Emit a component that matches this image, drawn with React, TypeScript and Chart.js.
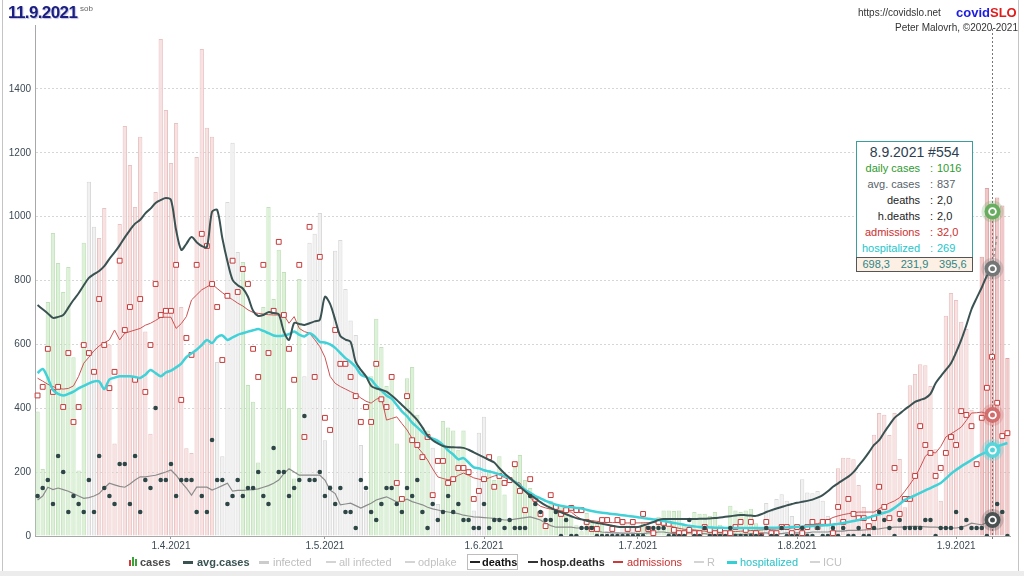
import React, { useEffect, useRef } from 'react';
import { Chart, registerables } from 'chart.js';

Chart.register(...registerables);

// ---------- categories (6.3.2021 .. 11.9.2021) ----------
const firstDay = [2021, 2, 6]; // year, monthIndex, day
const dayCount = 190;
const days: string[] = (() => {
  const out: string[] = [];
  const dt = new Date(Date.UTC(firstDay[0], firstDay[1], firstDay[2]));
  for (let i = 0; i < dayCount; i++) {
    out.push(`${dt.getUTCDate()}.${dt.getUTCMonth() + 1}.${dt.getUTCFullYear()}`);
    dt.setUTCDate(dt.getUTCDate() + 1);
  }
  return out;
})();
const isMonthStart = (i: number) => !!days[i] && days[i].startsWith('1.');

// ---------- series ----------
const cases = [
  390, 210, 733, 949, 855, 764, 842,
  560, 205, 918, 1109, 968, 933, 1027,
  600, 290, 977, 1284, 1162, 1030, 1250,
  640, 320, 1077, 1556, 1334, 1168, 1293,
  717, 275, 260, 1187, 1525, 1278, 1250,
  545, 250, 1046, 1231, 889, 858, 473,
  420, 230, 717, 1030, 742, 896, 827,
  400, 180, 805, 500, 918, 946, 1011,
  300, 160, 893, 927, 773, 675, 629,
  285, 140, 500, 680, 592, 470, 492,
  290, 110, 494, 529, 380, 340, 330,
  276, 100, 360, 340, 330, 270, 330,
  200, 80, 323, 373, 207, 175, 250,
  130, 50, 216, 254, 175, 150, 120,
  60, 25, 110, 100, 95, 75, 60,
  34, 15, 72, 50, 45, 40, 15,
  20, 10, 35, 40, 35, 30, 45,
  25, 10, 60, 80, 80, 78, 80,
  35, 15, 75, 70, 70, 63, 75,
  35, 15, 95, 80, 75, 80, 85,
  40, 20, 103, 78, 116, 131, 110,
  63, 30, 178, 136, 134, 141, 110,
  63, 35, 212, 245, 245, 240, 160,
  91, 40, 317, 385, 380, 316, 385,
  241, 90, 472, 507, 538, 535, 470,
  272, 110, 690, 761, 739, 671, 648,
  395, 230, 874, 1090, 1016, 1060, 1035,
  557,
];

// bar tone per range of days: g = falling (green), r = rising (pink), n = neutral (grey), h = highlighted week
const caseToneRanges: [number, number, string][] = [
  [0, 9, 'g'], [10, 11, 'n'], [12, 34, 'r'], [35, 39, 'n'], [40, 51, 'g'], [52, 64, 'n'],
  [65, 76, 'g'], [77, 78, 'n'], [79, 84, 'g'], [85, 87, 'n'], [88, 110, 'g'], [111, 116, 'n'],
  [117, 141, 'g'], [142, 155, 'n'], [156, 183, 'r'], [184, 189, 'h'],
];

const avgCases = [
  723, 710, 697, 683, 686, 692, 715, 739, 760, 785,
  808, 820, 830, 845, 868, 888, 910, 935, 958, 978,
  990, 1010, 1025, 1043, 1052, 1058, 1052, 958, 896, 915,
  936, 920, 908, 905, 1015, 1021, 933, 860, 802, 785,
  775, 749, 705, 689, 692, 701, 698, 694, 640, 614,
  667, 664, 661, 666, 672, 677, 749, 727, 677, 626,
  615, 608, 545, 520, 500, 470, 462, 458, 452, 440,
  426, 410, 395, 380, 363, 340, 315, 300, 290, 282,
  279, 278, 277, 276, 270, 262, 254, 246, 238, 230,
  212, 196, 182, 168, 154, 140, 128, 118, 106, 96,
  88, 80, 74, 68, 62, 56, 52, 48, 44, 41,
  38, 35, 32, 29, 28, 28, 28, 28, 33, 38,
  44, 50, 53, 53, 53, 53, 53, 53, 53, 54,
  54, 55, 56, 58, 60, 62, 64, 66, 65, 64,
  63, 68, 75, 81, 86, 91, 96, 100, 104, 107,
  110, 114, 120, 128, 140, 154, 165, 176, 186, 200,
  220, 240, 262, 285, 300, 325, 348, 370, 383, 396,
  408, 420, 426, 432, 445, 478, 500, 520, 541, 575,
  614, 660, 710, 745, 778, 815, 837,
];
const avgCasesForecast = [837, 945]; // dashed continuation from 8.9.

const deaths = [
  5, 6, 7, 4, 10, 8, 3, 5, 4, 3,
  7, 3, 10, 6, 5, 4, 9, 9, 4, 10,
  3, 7, 6, 16, 7, 7, 9, 5, 7, 7,
  7, 3, 5, 3, 12, 7, 7, 4, 5, 7,
  5, 6, 6, 8, 5, 4, 11, 8, 8, 5,
  6, 7, 15, 7, 7, 8, 5, 6, 4, 6,
  3, 3, 1, 7, 6, 3, 2, 4, 6, 6,
  4, 3, 6, 5, 7, 3, 1, 4, 2, 3,
  5, 3, 4, 2, 2, 1, 1, 4, 1, 2,
  2, 1, 2, 1, 1, 1, 5, 4, 3, 2,
  2, 3, 0, 2, 0, 0, 1, 1, 1, 0,
  0, 0, 0, 0, 0, 0, 0, 0, 0, 1,
  1, 1, 1, 0, 0, 0, 0, 2, 0, 0,
  1, 0, 0, 0, 0, 1, 0, 0, 0, 0,
  0, 0, 1, 0, 0, 1, 0, 0, 0, 1,
  0, 0, 1, 0, 0, 1, 0, 1, 0, 0,
  1, 0, 0, 1, 3, 2, 1, 0, 2, 1,
  1, 1, 1, 2, 2, 0, 1, 1, 1, 3,
  1, 2, 1, 1, 1, 0, 2, 4, 3, 0,
];

const hospDeaths = [
  4.5, 5.0, 6.1, 5.8, 6.0, 5.8, 5.6, 5.3, 5.0, 4.7,
  4.8, 5.0, 5.3, 6.0, 6.6, 6.4, 6.2, 6.1, 6.5, 7.0,
  7.4, 7.4, 7.5, 7.6, 7.8, 8.0, 8.25, 7.6, 6.75, 6.0,
  5.1, 6.1, 6.1, 6.1, 5.75, 6.0, 6.3, 6.6, 5.6, 5.7,
  5.7, 5.75, 5.8, 5.9, 6.1, 6.3, 6.6, 7.0, 7.8, 8.4,
  8.0, 7.6, 7.6, 7.6, 7.6, 7.6, 7.0, 5.75, 5.3, 3.9,
  4.0, 4.1, 3.8, 3.5, 3.8, 4.1, 4.5, 4.7, 4.9, 4.6,
  4.25, 4.4, 4.6, 4.3, 4.1, 3.9, 3.6, 3.4, 3.25, 3.1,
  3.0, 2.9, 2.8, 2.6, 2.5, 2.4, 2.35, 2.3, 2.25, 2.2,
  2.1, 2.0, 2.0, 2.1, 2.2, 2.3, 2.4, 2.2, 2.0, 1.6,
  1.3, 1.1, 1.1, 1.1, 1.1, 1.0, 1.0, 1.0, 0.8, 0.6,
  0.5, 0.45, 0.4, 0.4, 0.35, 0.35, 0.35, 0.3, 0.3, 0.4,
  0.4, 0.5, 0.5, 0.4, 0.3, 0.3, 0.3, 0.4, 0.4, 0.3,
  0.3, 0.2, 0.2, 0.2, 0.3, 0.3, 0.2, 0.2, 0.2, 0.3,
  0.3, 0.4, 0.4, 0.3, 0.3, 0.3, 0.4, 0.4, 0.4, 0.4,
  0.4, 0.5, 0.5, 0.5, 0.5, 0.6, 0.6, 0.6, 0.7, 0.7,
  0.7, 0.75, 0.8, 0.85, 0.9, 1.0, 1.05, 1.1, 1.1, 1.15,
  1.2, 1.2, 1.2, 1.15, 1.1, 1.1, 1.05, 1.0, 1.0, 1.0,
  1.1, 1.3, 1.6, 1.5, 1.4, 1.7, 2.0,
];

const admissions = [
  440, 467, 586, 451, 467, 404, 573, 357, 404, 598,
  573, 514, 742, 598, 463, 514, 862, 645, 717, 489,
  742, 451, 598, 789, 692, 705, 705, 849, 426, 620,
  567, 849, 946, 908, 789, 717, 551, 752, 862, 764,
  836, 789, 586, 498, 849, 573, 705, 921, 692, 586,
  489, 849, 310, 968, 498, 874, 370, 332, 645, 539,
  539, 498, 438, 357, 404, 357, 539, 428, 404, 498,
  166, 116, 438, 300, 285, 247, 310, 128, 235, 235,
  166, 178, 213, 213, 200, 116, 141, 178, 247, 154,
  188, 166, 175, 225, 141, 81, 178, 116, 69, 31,
  128, 91, 69, 81, 88, 81, 81, 44, 22, 22,
  50, 50, 22, 50, 44, 22, 44, 22, 69, 22,
  9, 44, 41, 38, 19, 9, 9, 19, 9, 9,
  28, 19, 9, 19, 9, 9, 28, 44, 19, 44,
  9, 0, 44, 9, 9, 28, 28, 9, 28, 9,
  28, 44, 28, 44, 44, 9, 91, 44, 116, 69,
  56, 56, 31, 56, 154, 91, 56, 213, 69, 116,
  116, 188, 344, 285, 260, 188, 213, 260, 310, 285,
  391, 379, 344, 225, 370, 464, 561, 417, 313, 322,
];

const admissionsAvg = [
  494, 485, 475, 468, 462, 460, 462, 470, 500, 541,
  560, 580, 595, 605, 614, 645, 614, 635, 640, 645,
  650, 660, 666, 675, 685, 685, 685, 650, 665, 687,
  739, 755, 771, 780, 789, 775, 762, 750, 740, 729,
  720, 708, 700, 697, 695, 693, 692, 692, 692, 666,
  687, 650, 640, 635, 615, 593, 560, 500, 478, 468,
  460, 452, 445, 432, 422, 416, 428, 435, 363, 368,
  373, 352, 332, 305, 279, 260, 238, 210, 185, 180,
  176, 180, 190, 197, 190, 182, 178, 175, 182, 188,
  191, 183, 175, 170, 166, 140, 120, 105, 93, 88,
  84, 81, 79, 77, 75, 62, 52, 50, 48, 46,
  44, 43, 42, 42, 41, 41, 41, 41, 41, 42,
  43, 43, 38, 33, 28, 24, 21, 20, 19, 17,
  15, 14, 13, 13, 13, 13, 14, 15, 16, 17,
  18, 19, 20, 21, 22, 23, 24, 25, 27, 30,
  33, 36, 39, 42, 50, 58, 63, 67, 70, 73,
  75, 75, 75, 75, 85, 95, 103, 110, 120, 140,
  162, 185, 215, 250, 263, 260, 280, 310, 320, 330,
  341, 362, 385, 386, 388, 383, 379,
];

const hospitalized = [
  510, 523, 495, 457, 445, 440, 445, 452, 462, 470,
  478, 484, 484, 460, 490, 496, 500, 500, 500, 498,
  495, 505, 520, 510, 500, 512, 518, 528, 540, 560,
  572, 583, 598, 614, 604, 622, 628, 614, 622, 630,
  635, 640, 644, 648, 642, 635, 628, 626, 628, 632,
  640, 630, 625, 635, 625, 608, 606, 600, 589, 573,
  557, 545, 529, 505, 498, 490, 470, 455, 440, 430,
  410, 390, 375, 355, 340, 325, 312, 305, 298, 285,
  268, 255, 240, 244, 230, 215, 212, 206, 202, 198,
  193, 188, 180, 170, 158, 145, 135, 125, 118, 110,
  104, 98, 95, 92, 90, 88, 86, 82, 78, 75,
  73, 71, 69, 67, 65, 63, 61, 59, 56, 54,
  52, 50, 47, 44, 41, 38, 35, 32, 30, 28,
  27, 27, 26, 26, 25, 25, 25, 25, 25, 25,
  25, 25, 25, 26, 26, 27, 27, 28, 28, 29,
  30, 31, 32, 33, 34, 36, 38, 41, 44, 47,
  50, 54, 58, 63, 68, 73, 78, 88, 100, 113,
  120, 127, 135, 143, 150, 158, 166, 180, 195, 207,
  218, 228, 238, 248, 256, 263, 269, 280, 286, 291,
];

const yTickValues = [0, 200, 400, 600, 800, 1000, 1200, 1400];
const highlightIndex = 186; // 8.9.2021

// tooltip box texts
const infoTitle = '8.9.2021 #554';
const infoRows = [
  { label: 'daily cases', value: '1016', color: '#2e9a2e' },
  { label: 'avg. cases', value: '837', color: '#56626a' },
  { label: 'deaths', value: '2,0', color: '#1c1c1c' },
  { label: 'h.deaths', value: '2,0', color: '#1c1c1c' },
  { label: 'admissions', value: '32,0', color: '#cc2f2f' },
  { label: 'hospitalized', value: '269', color: '#22c6cc' },
];
const infoFooter = ['698,3', '231,9', '395,6'];

// ---------- styling helpers ----------
const toneStyle: Record<string, [string, string]> = {
  g: ['rgba(214,239,208,0.85)', 'rgba(186,222,178,0.9)'],
  r: ['rgba(247,222,222,0.9)', 'rgba(232,192,192,0.95)'],
  n: ['rgba(240,240,240,0.9)', 'rgba(214,214,214,0.95)'],
  h: ['rgba(240,196,196,0.95)', 'rgba(222,164,164,1)'],
};
const toneOf = (i: number) => {
  for (const [a, b, t] of caseToneRanges) if (i >= a && i <= b) return t;
  return 'n';
};
const barFill = cases.map((_, i) => toneStyle[toneOf(i)][0]);
const barBorder = cases.map((_, i) => toneStyle[toneOf(i)][1]);

const forecastData = days.map((_, i) =>
  i >= highlightIndex && i < highlightIndex + avgCasesForecast.length ? avgCasesForecast[i - highlightIndex] : null
);

const FONT = '"Liberation Sans", Arial, sans-serif';

function ring(ctx: CanvasRenderingContext2D, x: number, y: number, color: string, halo: string) {
  ctx.save();
  ctx.fillStyle = halo;
  ctx.beginPath();
  ctx.arc(x, y, 11, 0, Math.PI * 2);
  ctx.fill();
  ctx.fillStyle = color;
  ctx.beginPath();
  ctx.arc(x, y, 8, 0, Math.PI * 2);
  ctx.fill();
  ctx.strokeStyle = '#ffffff';
  ctx.lineWidth = 1.8;
  ctx.beginPath();
  ctx.arc(x, y, 3.4, 0, Math.PI * 2);
  ctx.stroke();
  ctx.restore();
}

const highlightPlugin = {
  id: 'highlightDay',
  afterDatasetsDraw(chart: any) {
    const { ctx, chartArea, scales } = chart;
    const x = Math.round(scales.x.getPixelForValue(highlightIndex)) + 0.5;
    ctx.save();
    ctx.strokeStyle = '#777';
    ctx.lineWidth = 1;
    ctx.setLineDash([2, 2]);
    ctx.beginPath();
    ctx.moveTo(x, chartArea.top + 4);
    ctx.lineTo(x, chartArea.bottom + 5);
    ctx.stroke();
    ctx.restore();
    const y = scales.y;
    ring(ctx, x, y.getPixelForValue(cases[highlightIndex]), 'rgba(98,172,92,0.95)', 'rgba(98,172,92,0.25)');
    ring(ctx, x, y.getPixelForValue(avgCases[highlightIndex]), 'rgba(112,116,116,0.95)', 'rgba(112,116,116,0.25)');
    ring(ctx, x, y.getPixelForValue(admissionsAvg[highlightIndex]), 'rgba(208,104,104,0.9)', 'rgba(208,104,104,0.25)');
    ring(ctx, x, y.getPixelForValue(hospitalized[highlightIndex]), 'rgba(80,214,220,0.9)', 'rgba(80,214,220,0.3)');
    ring(ctx, x, scales.yD.getPixelForValue(deaths[highlightIndex]), 'rgba(70,78,78,0.95)', 'rgba(70,78,78,0.25)');
  },
};

// legend layout (pixel positions)
const legendLayout = [
  { label: 'cases', lineX: 0, textX: 140, line: '', lineW: 0, color: '#4a4a4a', bold: true, bars: true },
  { label: 'avg.cases', lineX: 183, textX: 197, line: '#3a5252', lineW: 3, color: '#3a5252', bold: true },
  { label: 'infected', lineX: 259, textX: 273, line: '#cccccc', lineW: 3, color: '#bcbcbc' },
  { label: 'all infected', lineX: 326, textX: 339, line: '#d4d4d4', lineW: 2, color: '#c2c2c2' },
  { label: 'odplake', lineX: 405, textX: 418, line: '#d4d4d4', lineW: 2, color: '#c2c2c2' },
  { label: 'deaths', lineX: 470, textX: 482, line: '#222222', lineW: 2, color: '#111111', bold: true, boxed: true },
  { label: 'hosp.deaths', lineX: 528, textX: 540, line: '#333333', lineW: 2, color: '#2a2a2a', bold: true },
  { label: 'admissions', lineX: 613, textX: 627, line: '#cc3a3a', lineW: 2, color: '#c83232' },
  { label: 'R', lineX: 694, textX: 707, line: '#d4d4d4', lineW: 2, color: '#c2c2c2' },
  { label: 'hospitalized', lineX: 727, textX: 740, line: '#33d0d6', lineW: 3, color: '#26c2c8' },
  { label: 'ICU', lineX: 810, textX: 823, line: '#d4d4d4', lineW: 2, color: '#c2c2c2' },
];

export default function App() {
  const canvasRef = useRef<HTMLCanvasElement | null>(null);

  useEffect(() => {
    if (!canvasRef.current) return;
    const chart = new Chart(canvasRef.current, {
      type: 'bar',
      data: {
        labels: days,
        datasets: [
          {
            type: 'line', label: 'deaths', data: deaths, yAxisID: 'yD', showLine: false,
            pointRadius: 2.3, pointBackgroundColor: '#2f4646', pointBorderWidth: 0, order: 1,
          } as any,
          {
            type: 'line', label: 'avg.cases', data: avgCases, yAxisID: 'y', borderColor: '#3a5252',
            borderWidth: 2, pointRadius: 0, tension: 0.3, order: 2,
          },
          {
            type: 'line', label: 'avg.cases forecast', data: forecastData, yAxisID: 'y', borderColor: '#8a8a8a',
            borderWidth: 1.3, borderDash: [3, 3], pointRadius: 0, order: 2,
          },
          {
            type: 'line', label: 'hospitalized', data: hospitalized, yAxisID: 'y', borderColor: '#40d2d8',
            borderWidth: 2.5, pointRadius: 0, tension: 0.3, order: 3,
          },
          {
            type: 'line', label: 'admissions', data: admissions, yAxisID: 'y', showLine: false,
            pointStyle: 'rect', pointRadius: 3.4, pointBorderColor: '#c43a3a', pointBackgroundColor: '#ffffff',
            pointBorderWidth: 1, order: 4,
          } as any,
          {
            type: 'line', label: 'admissions avg', data: admissionsAvg, yAxisID: 'y', borderColor: '#cc5252',
            borderWidth: 1, pointRadius: 0, order: 5,
          },
          {
            type: 'line', label: 'hosp.deaths', data: hospDeaths, yAxisID: 'yD', borderColor: '#8c8c8c',
            borderWidth: 1.2, pointRadius: 0, order: 6,
          },
          {
            type: 'bar', label: 'cases', data: cases, yAxisID: 'y', backgroundColor: barFill, borderColor: barBorder,
            borderWidth: 1, barPercentage: 0.84, categoryPercentage: 1, order: 10,
          },
        ],
      },
      options: {
        animation: false,
        responsive: false,
        maintainAspectRatio: false,
        layout: { padding: { left: 0, right: 14, top: 25, bottom: 24 } },
        plugins: { legend: { display: false }, tooltip: { enabled: false }, title: { display: false } },
        scales: {
          x: {
            afterFit: (s: any) => { s.height = 16; },
            border: { display: true, color: '#a8a8a8' },
            grid: {
              offset: false,
              drawOnChartArea: false,
              drawTicks: true,
              tickLength: 3,
              color: (c: any) => (isMonthStart(c.index) ? '#999999' : 'rgba(0,0,0,0)'),
            },
            ticks: {
              autoSkip: false, maxRotation: 0, minRotation: 0, padding: 1,
              color: '#3b4a55', font: { size: 10, family: FONT },
              callback: (_v: any, i: number) => (isMonthStart(i) ? days[i] : ''),
            },
          },
          y: {
            position: 'left',
            min: 0,
            max: 1600,
            afterFit: (s: any) => { s.width = 35; },
            afterBuildTicks: (s: any) => {
              s.ticks = yTickValues.map((v) => ({ value: v }));
            },
            border: { display: true, color: '#a8a8a8', dash: [2, 2] },
            grid: {
              drawTicks: false,
              color: (c: any) => (c.tick && c.tick.value === 0 ? 'rgba(0,0,0,0)' : '#d6d6d6'),
            },
            ticks: {
              padding: 4, color: '#3b4a55', font: { size: 10, family: FONT },
              callback: (v: any) => String(v),
            },
          },
          yD: { display: false, min: 0, max: 63.9 },
        },
      } as any,
      plugins: [highlightPlugin],
    });
    return () => chart.destroy();
  }, []);

  return (
    <div style={{ position: 'fixed', left: 0, top: 0, width: 1024, height: 576, background: '#fff', overflow: 'hidden', fontFamily: FONT }}>
      <canvas ref={canvasRef} width={1024} height={576} style={{ position: 'absolute', left: 0, top: 0, width: 1024, height: 576 }} />
      {/* frame */}
      <div style={{ position: 'absolute', left: 2, top: 0, width: 1, height: 571, background: '#c4c4c4' }} />
      <div style={{ position: 'absolute', left: 1018, top: 0, width: 1, height: 571, background: '#c4c4c4' }} />
      <div style={{ position: 'absolute', left: 0, top: 571, width: 1024, height: 5, background: '#ececec' }} />

      {/* title */}
      <div style={{ position: 'absolute', left: 8, top: 3, fontSize: 17, fontWeight: 700, color: '#1b2080', letterSpacing: -0.6, textShadow: '1px 1px 1px rgba(70,70,170,0.35)', lineHeight: '20px' }}>11.9.2021</div>
      <div style={{ position: 'absolute', left: 80, top: 4, fontSize: 8, color: '#666', lineHeight: '10px' }}>sob</div>

      {/* source */}
      <div style={{ position: 'absolute', left: 858, top: 7, fontSize: 10, color: '#333', lineHeight: '12px' }}>https://covidslo.net</div>
      <div style={{ position: 'absolute', left: 956, top: 5, fontSize: 13, fontWeight: 700, lineHeight: '15px' }}>
        <span style={{ color: '#1c1ce0' }}>covid</span><span style={{ color: '#e21b1b' }}>SLO</span>
      </div>
      <div style={{ position: 'absolute', right: 6, top: 22, fontSize: 10, color: '#333', lineHeight: '12px', textAlign: 'right' }}>Peter Malovrh, ©2020-2021</div>

      {/* info box */}
      <div style={{ position: 'absolute', left: 856, top: 141, width: 115, height: 115, border: '1px solid #3a9e9e', background: '#fff' }}>
        <div style={{ position: 'absolute', left: 0, top: 2, width: 115, textAlign: 'center', fontSize: 14, color: '#2c3e50', lineHeight: '16px' }}>{infoTitle}</div>
        {infoRows.map((r, k) => (
          <div key={r.label} style={{ position: 'absolute', left: 0, top: 19 + k * 16, width: 115, height: 14, fontSize: 11, lineHeight: '14px', color: r.color }}>
            <span style={{ position: 'absolute', right: 52, top: 0, whiteSpace: 'nowrap' }}>{r.label}</span>
            <span style={{ position: 'absolute', left: 73, top: 0 }}>:</span>
            <span style={{ position: 'absolute', left: 80, top: 0 }}>{r.value}</span>
          </div>
        ))}
      </div>
      <div style={{ position: 'absolute', left: 856, top: 257, width: 115, height: 13, border: '1px solid #555', background: '#fcefe3', fontSize: 11, lineHeight: '13px', color: '#2f8585', display: 'flex', justifyContent: 'space-around' }}>
        {infoFooter.map((t) => <span key={t}>{t}</span>)}
      </div>

      {/* legend */}
      {legendLayout.map((it) => (
        <React.Fragment key={it.label}>
          {it.boxed && (
            <div style={{ position: 'absolute', left: 467, top: 554, width: 51, height: 16, border: '1px solid #bdbdbd', background: '#fff', boxSizing: 'border-box' }} />
          )}
          {it.bars ? (
            <div style={{ position: 'absolute', left: 129, top: 556, width: 8, height: 10 }}>
              <div style={{ position: 'absolute', left: 0, bottom: 0, width: 2, height: 6, background: '#d43a3a' }} />
              <div style={{ position: 'absolute', left: 3, bottom: 0, width: 2, height: 9, background: '#3aa43a' }} />
              <div style={{ position: 'absolute', left: 6, bottom: 0, width: 2, height: 7, background: '#3aa43a' }} />
            </div>
          ) : (
            <div style={{ position: 'absolute', left: it.lineX, top: 562 - Math.floor(it.lineW / 2), width: 10, height: it.lineW, background: it.line }} />
          )}
          <div style={{ position: 'absolute', left: it.textX, top: 555, fontSize: 11, lineHeight: '14px', color: it.color, fontWeight: it.bold ? 700 : 400, whiteSpace: 'nowrap' }}>{it.label}</div>
        </React.Fragment>
      ))}
    </div>
  );
}
